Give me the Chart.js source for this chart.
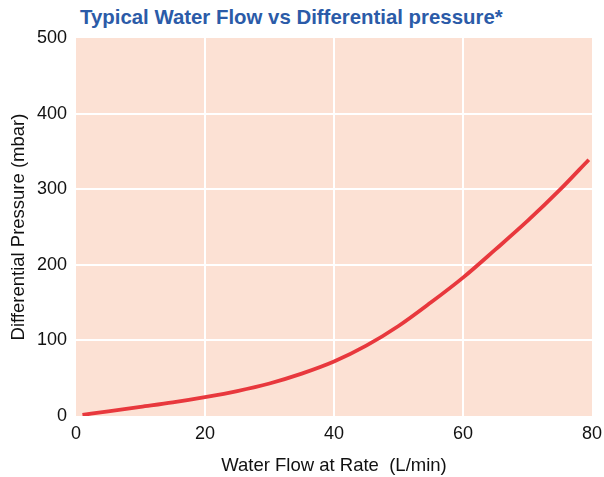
<!DOCTYPE html>
<html>
<head>
<meta charset="utf-8">
<script src="https://cdn.jsdelivr.net/npm/chart.js@4/dist/chart.umd.min.js"></script>
<style>
  html, body { margin: 0; padding: 0; background: #fff; }
  #wrap { position: relative; width: 604px; height: 477px; }
  #title {
    position: absolute; left: 80px; top: 5px;
    font-family: "Liberation Sans", Arial, sans-serif;
    font-weight: bold; font-size: 20.4px; color: #2b5ba8;
    line-height: 24px;
  }
  canvas { position: absolute; left: 0; top: 0; }
</style>
</head>
<body>
<div id="wrap">
  <div id="title">Typical Water Flow vs Differential pressure*</div>
  <canvas id="chart" width="604" height="477"></canvas>
</div>
<script>
// valeurs
const flowRate = [1, 5, 10, 15, 20, 25, 30, 35, 40, 45, 50, 55, 60, 65, 70, 75, 79.5];
const pressure = [1.5, 6, 12, 18, 25, 33, 43, 56, 72, 93, 119, 150, 183, 220, 258, 299, 339];
const xTicks = [0, 20, 40, 60, 80];
const yTicks = [0, 100, 200, 300, 400, 500];

const points = flowRate.map((x, i) => ({ x: x, y: pressure[i] }));

// fond saumon de la zone de tracé
const plotBg = {
    id: 'plotBg',
    beforeDraw(chart) {
        const a = chart.chartArea;
        const ctx = chart.ctx;
        ctx.save();
        ctx.fillStyle = '#fce1d4';
        ctx.fillRect(a.left, a.top, a.right - a.left, a.bottom - a.top);
        ctx.restore();
    }
};

const tickFont = { family: '"Liberation Sans", Arial, sans-serif', size: 18 };
const titleFont = { family: '"Liberation Sans", Arial, sans-serif', size: 18.5 };

new Chart(document.getElementById('chart').getContext('2d'), {
    type: 'line',
    data: {
        datasets: [{
            data: points,
            borderColor: '#e8383d',
            borderWidth: 3.8,
            pointRadius: 0,
            cubicInterpolationMode: 'monotone',
            fill: false
        }]
    },
    options: {
        responsive: false,
        animation: false,
        layout: { padding: { left: 4, right: 12, top: 38, bottom: 0 } },
        plugins: { legend: { display: false }, tooltip: { enabled: false } },
        scales: {
            x: {
                type: 'linear',
                min: xTicks[0],
                max: xTicks[xTicks.length - 1],
                afterBuildTicks: s => { s.ticks = xTicks.map(v => ({ value: v })); },
                afterFit: s => { s.height = 477 - 416; s.paddingLeft = 0; s.paddingRight = 0; },
                border: { display: false },
                grid: {
                    drawTicks: false,
                    lineWidth: 2,
                    color: c => (c.tick.value === 0 || c.tick.value === 80) ? 'rgba(0,0,0,0)' : '#ffffff'
                },
                ticks: { color: '#111', font: tickFont, padding: 7, maxRotation: 0 },
                title: {
                    display: true,
                    text: 'Water Flow at Rate  (L/min)',
                    color: '#111',
                    font: titleFont,
                    padding: { top: 17, bottom: 0 }
                }
            },
            y: {
                min: yTicks[0],
                max: yTicks[yTicks.length - 1],
                afterBuildTicks: s => { s.ticks = yTicks.map(v => ({ value: v })); },
                afterFit: s => { s.width = 76 - 4; s.paddingTop = 0; s.paddingBottom = 0; },
                border: { display: false },
                grid: {
                    drawTicks: false,
                    lineWidth: 2,
                    color: c => (c.tick.value === 0 || c.tick.value === 500) ? 'rgba(0,0,0,0)' : '#ffffff'
                },
                ticks: { color: '#111', font: tickFont, padding: 9 },
                title: {
                    display: true,
                    text: 'Differential Pressure (mbar)',
                    color: '#111',
                    font: titleFont,
                    padding: { bottom: 4 }
                }
            }
        }
    },
    plugins: [plotBg]
});
</script>
</body>
</html>
